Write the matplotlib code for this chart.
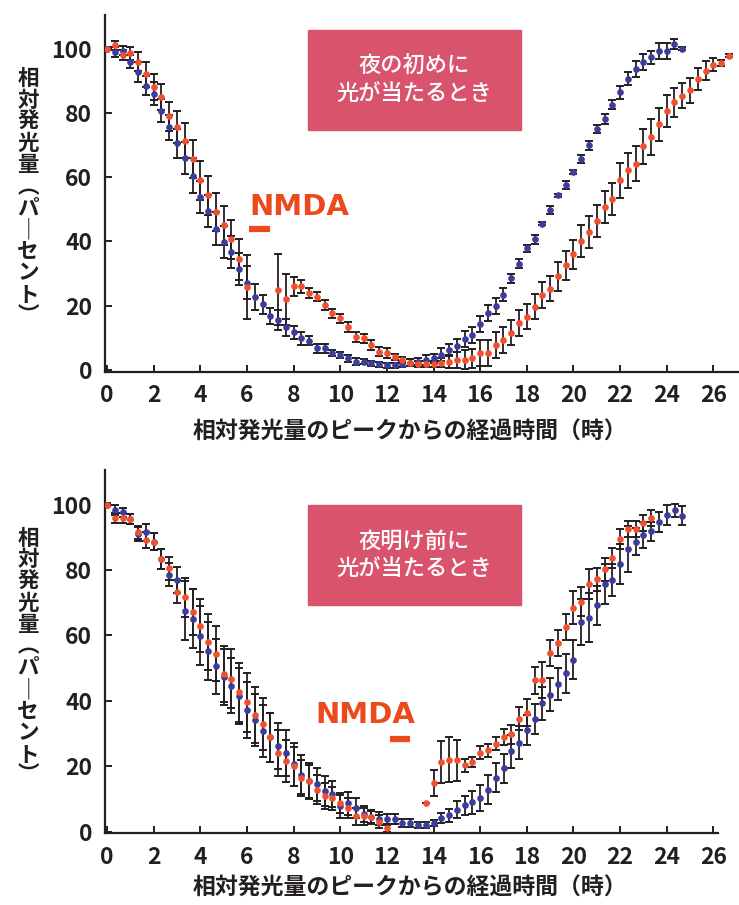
import numpy as np
import matplotlib
matplotlib.use('Agg')
import matplotlib.pyplot as plt
from matplotlib.patches import Rectangle

plt.rcParams['font.family'] = ['Noto Sans CJK JP', 'DejaVu Sans']

nan = np.nan

# readings every 20 minutes (1/3 h) after the peak
# --- top panel: light at beginning of night
top_blue = [100, 99, 99.4, 96, 92.7, 88.5, 86, 80.7, 75.5, 70.6,
            66, 60.5, 53.8, 49.5, 44, 39.8, 36.6, 31.3, 27.2, 22.6,
            20.4, 16.8, 15.5, 13.2, 11.7, 9.8, 9.1, 6.7, 6.7, 5.2,
            4.7, 3.6, 2.6, 2.6, 2.0, 1.8, 1.5, 1.5, 1.8, 2.3,
            2.6, 3.1, 3.6, 4.7, 6.2, 7.5, 9.6, 11.0, 14.2, 17.6,
            20.0, 23.4, 28.5, 33.1, 37.8, 40.6, 45.5, 49.7, 54.3, 57.5,
            61.6, 65.7, 69.9, 75.0, 78.2, 82.6, 86.4, 90.6, 93.7, 95.8,
            97.3, 99.2, 99.2, 101.4, 100]
top_blue_err = [0.5, 1.5, 1.5, 2, 3, 3, 3.5, 3.5, 4, 4.5,
                5, 5.5, 5, 5, 5, 5, 5, 5, 5, 4,
                3, 2.5, 3, 2.5, 2, 2, 1.5, 1.5, 1.5, 1,
                1, 1, 1, 0.8, 0.8, 0.8, 0.8, 0.8, 1, 1,
                1, 1.5, 1.5, 2, 2, 2, 2.5, 2.5, 2.5, 2.5,
                2.5, 2, 1.5, 1.5, 1, 1.5, 0.5, 1.2, 0.5, 1.2,
                0.5, 1.2, 1.5, 1.2, 1.5, 1.5, 2, 2, 2.5, 2.5,
                2, 2.5, 2.5, 1.5, 0.5]
top_red = [100, 101, 98, 98.5, 96, 92, 88, 85, 79, 75.5,
           71.4, 65.7, 59, 54.3, 49.2, 45, 40.6, 34.4, 25.9, nan,
           nan, nan, 25, 22, 26, 26, 24, 22.8, 20.2, 17.6,
           16, 13.4, 10.3, 9.8, 7.8, 5.7, 5.2, 4.1, 3.0, 2.3,
           1.9, 1.9, 1.9, 2.3, 2.6, 3.0, 3.2, 3.6, 5.2, 5.3,
           7.8, 9.3, 11.6, 14.5, 16.6, 19.7, 23.3, 25.3, 29.2, 32.6,
           36, 40.1, 42.9, 46.4, 50.7, 53.3, 59, 62.1, 64.2, 69.6,
           72.5, 76.4, 80.7, 83.3, 85.4, 87, 90.6, 93.2, 95, 95.5,
           97.8]
top_red_err = [0.5, 1.5, 1.5, 2, 3, 4, 4, 4, 4.5, 5,
               5.5, 6, 6, 6, 6, 6, 6, 6.5, 10, 0,
               0, 0, 11, 8, 3, 2, 1.5, 1.5, 1.5, 1.5,
               1.5, 1.5, 1.5, 1.5, 1.5, 1.5, 1.5, 1, 1, 1,
               1, 1, 1, 1.5, 2, 2.5, 3, 3, 4, 4,
               4, 4, 4, 4, 4, 4, 4, 4, 4.5, 4.5,
               4.5, 5, 5, 5, 5, 5, 5.5, 5.5, 5.5, 5.5,
               5.5, 5, 5, 4.5, 4, 4, 3.5, 3, 2, 1,
               0.5]

# --- bottom panel: light before dawn
bot_blue = [100, 98.3, 97.6, 95.6, 91, 91.5, 88.7, 83.3, 78.5, 77,
            67.5, 65.1, 59.9, 55.2, 50.5, 47.2, 44.6, 41.5, 37.1, 34.1,
            30.8, 28.9, 26.2, 23.9, 20.5, 17.4, 15.4, 14.4, 12.4, 11.5,
            7.7, 8.7, 7.2, 5.3, 4.5, 3.9, 3.9, 3.9, 2.6, 2.6,
            2.0, 2.0, 2.6, 4.1, 4.9, 6.7, 8.0, 8.9, 10.2, 12.8,
            16.5, 19.3, 24.5, 27.2, 31.1, 34.4, 39.2, 41.8, 45.1, 48.4,
            52.5, 64.1, 65.4, 69.2, 75.7, 76.9, 81.8, 86.4, 88.7, 90.8,
            91.8, 94.7, 96.9, 98.3, 96.6]
bot_blue_err = [0.5, 1.5, 1.5, 1.5, 2, 2.5, 2.5, 3, 3.5, 4,
                9, 9, 9, 9, 8.5, 8.5, 8.5, 8.5, 8.5, 8,
                8, 7.5, 7, 7, 6.5, 6, 5.5, 5, 4.5, 4,
                3.5, 3.5, 3, 2.5, 2, 2, 1.5, 1.5, 1.2, 1.2,
                1, 1, 1, 1.5, 2, 2.5, 3, 3.5, 4, 4.5,
                4.5, 4.5, 5, 5, 4.5, 4.5, 5, 5, 5, 6,
                6, 7, 7.5, 6, 6, 5, 6, 7, 4, 4,
                3, 3, 3, 2, 3]
bot_red = [100, 95.9, 95.9, 95.6, 91.5, 89.2, 88.7, 83.3, 80.5, 73.3,
           71.6, 67.2, 63, 57.9, 54.4, 48.2, 46.7, 42.6, 39.5, 35.7,
           32.8, 28.9, 23.9, 21.5, 20, 16.4, 15.4, 12.8, 10.8, 10.2,
           8.7, 7.2, 4.6, 4.6, 4.3, 3.0, 1.0, nan, nan, nan,
           nan, 8.7, 14.9, 21.3, 22.0, 21.8, 20.3, 21.3, 24.1, 24.8,
           26.9, 29.0, 29.7, 34.5, 36.4, 46.2, 46.2, 54.6, 57.6, 62.6,
           68.5, 70.3, 75.7, 77.1, 80.2, 83.6, 89.4, 92.5, 92.5, 94.4,
           95.9]
bot_red_err = [0.5, 1.5, 1.5, 1.5, 2, 2.5, 2.5, 3, 3.5, 3.5,
               6, 7, 8, 8.5, 8.5, 8.5, 9, 9, 9, 8.5,
               8, 7.5, 7, 6.5, 6, 5.5, 5, 4.5, 4, 3.5,
               3, 3, 2.5, 2.5, 2, 2, 1, 0, 0, 0,
               0, 0, 4, 6.5, 7, 6.3, 2, 1.5, 2, 2,
               2, 2.5, 3, 3.5, 4, 4, 5.5, 4, 4, 4,
               5, 4.5, 4.5, 3.5, 3.5, 3, 3, 2.5, 2.5, 2.5,
               2.5]

# NMDA application period (h) and where its bar sits
nmda_top = (6.1, 7.0, 43.8)
nmda_bot = (12.12, 12.98, 28.3)

BLUE = '#3b3c9c'
RED = '#f0502d'
DARK = '#231f20'
PINK = '#d9536d'
ORANGE = '#ec4a1c'

fig = plt.figure(figsize=(7.39, 9.05), dpi=100)
ax1 = fig.add_axes([0.1417, 0.5895, 0.8583, 0.3940])
ax2 = fig.add_axes([0.1417, 0.0794, 0.8300, 0.4010])


def hours(vals):
    return np.arange(len(vals)) / 3.0


def draw_panel(ax, blue, blue_err, red, red_err, xmax):
    for vals, errs in [(blue, blue_err), (red, red_err)]:
        ax.errorbar(hours(vals), vals, yerr=errs, fmt='none', ecolor=DARK,
                    elinewidth=1.3, capsize=2.8, capthick=1.4, zorder=2)
    for vals, col in [(blue, BLUE), (red, RED)]:
        ax.plot(hours(vals), vals, 'o', color=col, ms=4.8, mec='none', zorder=3)
    ax.set_xlim(-0.1, xmax)
    ax.set_ylim(-0.5, 110.5)
    ax.set_xticks(np.arange(0, 27, 2))
    ax.set_yticks(np.arange(0, 101, 20))
    for s in ['top', 'right']:
        ax.spines[s].set_visible(False)
    for s in ['left', 'bottom']:
        ax.spines[s].set_linewidth(1.6)
        ax.spines[s].set_color(DARK)
    ax.tick_params(direction='in', length=5, width=1.4, colors=DARK,
                   labelsize=16.5, pad=9)
    for lab in ax.get_xticklabels() + ax.get_yticklabels():
        lab.set_fontweight('bold')


draw_panel(ax1, top_blue, top_blue_err, top_red, top_red_err, 27.1)
draw_panel(ax2, bot_blue, bot_blue_err, bot_red, bot_red_err, 26.2)

# NMDA labels and bars
for ax, (t0, t1, yb), (tx, ty) in [(ax1, nmda_top, (6.1, 50.6)),
                                    (ax2, nmda_bot, (8.95, 35.7))]:
    ax.plot([t0, t1], [yb, yb], color=ORANGE, lw=4.5, solid_capstyle='butt', zorder=4)
    ax.text(tx, ty, 'NMDA', color=ORANGE, fontsize=21, fontweight='bold',
            ha='left', va='center', family=['DejaVu Sans'])

# pink condition boxes
for y0, txt in [(0.8564, '夜の初めに\n光が当たるとき'),
                (0.3315, '夜明け前に\n光が当たるとき')]:
    fig.patches.append(Rectangle((0.4168, y0), 0.2882, 0.1105,
                                 transform=fig.transFigure, color=PINK, zorder=0))
    fig.text(0.561, y0 + 0.0552, txt, color='white', fontsize=16,
             fontweight='medium', ha='center', va='center', linespacing=1.2)

# axis labels
ylab = '\n'.join(['相', '対', '発', '光', '量', '︵', 'パ', '｜', 'セ', 'ン', 'ト', '︶'])
for yc in [0.782, 0.274]:
    fig.text(0.038, yc, ylab, fontsize=15.5, fontweight='bold', color=DARK,
             ha='center', va='center', linespacing=1.03)
for yc in [0.5227, 0.0188]:
    fig.text(0.555, yc, '相対発光量のピークからの経過時間（時）', fontsize=16.5,
             fontweight='bold', color=DARK, ha='center', va='center')

fig.savefig('out.png', dpi=100)
